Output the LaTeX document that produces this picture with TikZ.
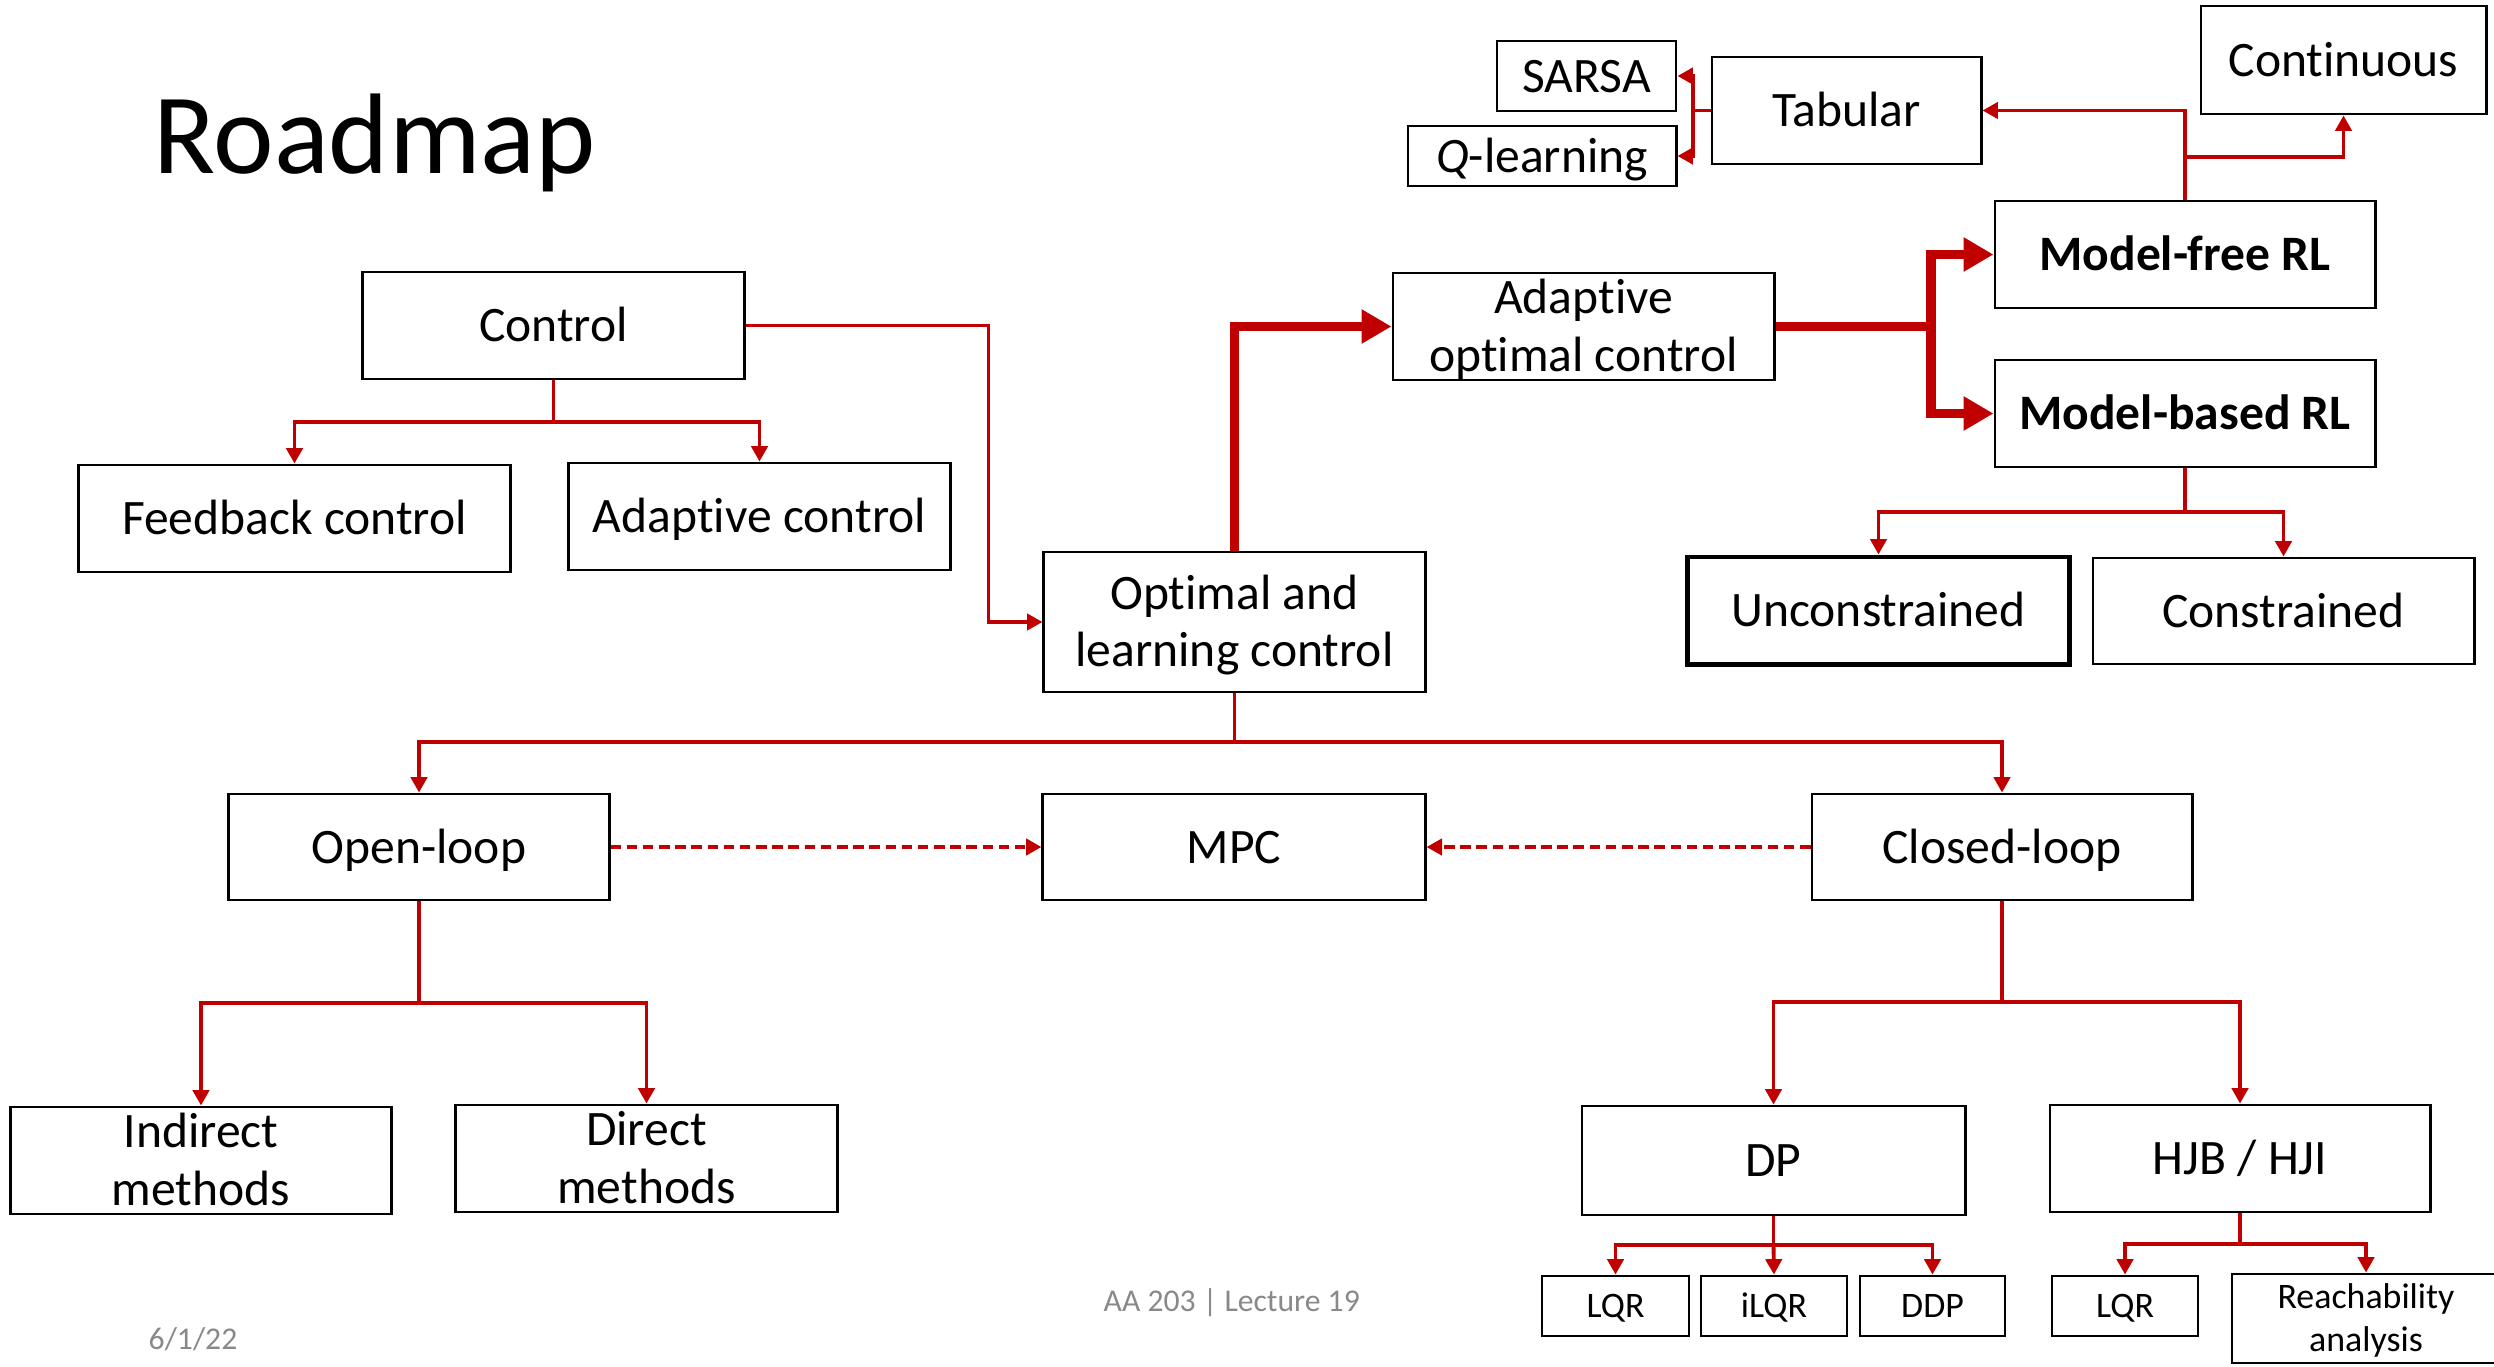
\documentclass[tikz,border=0pt]{standalone}
\usepackage{fontspec}
\setmainfont{Carlito}[Ligatures=NoCommon]
\usetikzlibrary{arrows.meta}
\definecolor{linkred}{HTML}{C00000}
\definecolor{footgray}{HTML}{898989}
\newcommand{\lblfont}{\fontsize{14.1}{16.3}\selectfont}
\newcommand{\smlfont}{\fontsize{10.2}{12.2}\selectfont}
\begin{document}
\begin{tikzpicture}[x=0.01cm, y=-0.01cm,
  box/.style={draw=black, line width=0.8pt, inner sep=0pt, align=center, font=\lblfont,
    text height=9.1pt, text depth=0pt},
  twoline/.style={text height=25.4pt, text depth=0pt},
  sbox/.style={box, font=\smlfont, text height=6.6pt, text depth=0pt},
  stwoline/.style={text height=18.8pt, text depth=0pt},
  link/.style={draw=linkred, line width=1.1pt, -{Triangle[length=4.4pt,width=4.6pt]}},
  trunk/.style={draw=linkred, line width=1.1pt},
  heavy/.style={draw=linkred, line width=2.7pt, line join=miter, -{Triangle[length=8.5pt,width=9.2pt]}},
  dashlink/.style={draw=linkred, line width=1.3pt, dash pattern=on 3pt off 1.6pt, -{Triangle[length=4.4pt,width=4.6pt]}}]

\fill[white] (0,0) rectangle (2494,1366);
\useasboundingbox (0,0) rectangle (2494,1366);
\clip (0,0) rectangle (2494,1366);

% title and footer
\node[anchor=base west, inner sep=0pt, font=\fontsize{32.6}{37}\selectfont] (title) at (153,173) {Roadmap};
\node[anchor=base west, inner sep=0pt, text=footgray, font=\fontsize{9}{10}\selectfont] (lect) at (1103,1311) {AA 203 | Lecture 19};
\node[anchor=base west, inner sep=0pt, text=footgray, font=\fontsize{9}{10}\selectfont] (date) at (148,1349) {6/1/22};

% upper left
\node[box, minimum width=3.81cm, minimum height=1.07cm] (ctrl) at (553.5,325.5) {Control};
\node[box, minimum width=4.31cm, minimum height=1.07cm] (fb) at (294.5,518.5) {Feedback control};
\node[box, minimum width=3.81cm, minimum height=1.07cm] (adc) at (759.5,516.5) {Adaptive control};
\node[box, twoline, minimum width=3.81cm, minimum height=1.40cm] (olc) at (1234.5,622) {Optimal and\\learning control};

% upper right
\node[box, twoline, minimum width=3.81cm, minimum height=1.07cm] (aoc) at (1583.5,326.5) {Adaptive\\optimal control};
\node[box, minimum width=3.80cm, minimum height=1.07cm, font=\lblfont\bfseries] (mfree) at (2185,254.5) {Model-free RL};
\node[box, minimum width=3.80cm, minimum height=1.07cm, font=\lblfont\bfseries] (mbased) at (2185,413.5) {Model-based RL};
\node[box, minimum width=2.69cm, minimum height=1.07cm] (tab) at (1846.5,110.5) {Tabular};
\node[box, minimum width=1.79cm, minimum height=0.70cm] (sarsa) at (1586.5,76) {SARSA};
\node[box, minimum width=2.68cm, minimum height=0.60cm] (qlearn) at (1542,156) {\textit{Q}-learning};
\node[box, minimum width=2.85cm, minimum height=1.08cm] (cont) at (2343.5,60) {Continuous};
\node[box, line width=1.4pt, minimum width=3.81cm, minimum height=1.07cm] (uncon) at (1878.5,610.5) {Unconstrained};
\node[box, minimum width=3.81cm, minimum height=1.06cm] (con) at (2283.5,611) {Constrained};

% middle row
\node[box, minimum width=3.80cm, minimum height=1.06cm] (open) at (419,847) {Open-loop};
\node[box, minimum width=3.82cm, minimum height=1.06cm] (mpc) at (1234,847) {MPC};
\node[box, minimum width=3.80cm, minimum height=1.06cm] (closed) at (2002,847) {Closed-loop};

% lower row
\node[box, twoline, minimum width=3.80cm, minimum height=1.07cm] (indirect) at (201,1160.5) {Indirect\\methods};
\node[box, twoline, minimum width=3.81cm, minimum height=1.07cm] (direct) at (646.5,1158.5) {Direct\\methods};
\node[box, minimum width=3.83cm, minimum height=1.09cm] (dp) at (1773.5,1160.5) {DP};
\node[box, minimum width=3.80cm, minimum height=1.07cm] (hjb) at (2240,1158.5) {HJB / HJI};
\node[sbox, minimum width=1.47cm, minimum height=0.60cm] (lqra) at (1615.5,1306) {LQR};
\node[sbox, minimum width=1.46cm, minimum height=0.60cm] (ilqr) at (1774,1306) {iLQR};
\node[sbox, minimum width=1.45cm, minimum height=0.60cm] (ddp) at (1932.5,1306) {DDP};
\node[sbox, minimum width=1.46cm, minimum height=0.60cm] (lqrb) at (2125,1306) {LQR};
\node[sbox, stwoline, minimum width=2.68cm, minimum height=0.89cm] (reach) at (2366,1318.5) {Reachability\\analysis};

% branch points
\coordinate (jctrl) at (553.5,422);
\coordinate (jaoc) at (1931,326.5);
\coordinate (jtab) at (1693,110.5);
\coordinate (jcont) at (2185,157);
\coordinate (jmb) at (2185,512);
\coordinate (jolc) at (1234.5,742);
\coordinate (jopen) at (419,1003);
\coordinate (jclosed) at (2002,1002);
\coordinate (jdp) at (1773.5,1245);
\coordinate (jhjb) at (2240,1244);

% Control
\draw[trunk] (ctrl.south) -- (jctrl);
\draw[link] (jctrl) -| (fb.north);
\draw[link] (jctrl) -| (adc.north);
\draw[link] (ctrl.east) -- ++(243,0) |- (olc.west);

% adaptive optimal control branch
\draw[heavy] (olc.north) |- (aoc.west);
\draw[draw=linkred, line width=2.7pt] (aoc.east) -- (jaoc);
\draw[heavy] (jaoc) |- (mfree.west);
\draw[heavy] (jaoc) |- (mbased.west);

% model-free RL
\draw[link] (mfree.north) |- (tab.east);
\draw[link] (jcont) -| (cont.south);
\draw[trunk] (tab.west) -- (jtab);
\draw[link] (jtab) |- (sarsa.east);
\draw[link] (jtab) |- (qlearn.east);

% model-based RL
\draw[trunk] (mbased.south) -- (jmb);
\draw[link] (jmb) -| (uncon.north);
\draw[link] (jmb) -| (con.north);

% optimal and learning control
\draw[trunk] (olc.south) -- (jolc);
\draw[link] (jolc) -| (open.north);
\draw[link] (jolc) -| (closed.north);
\draw[dashlink] (open.east) -- (mpc.west);
\draw[dashlink] (closed.west) -- (mpc.east);

% open-loop
\draw[trunk] (open.south) -- (jopen);
\draw[link] (jopen) -| (indirect.north);
\draw[link] (jopen) -| (direct.north);

% closed-loop
\draw[trunk] (closed.south) -- (jclosed);
\draw[link] (jclosed) -| (dp.north);
\draw[link] (jclosed) -| (hjb.north);

% DP
\draw[trunk] (dp.south) -- (jdp);
\draw[link] (jdp) -| (lqra.north);
\draw[link] (jdp) -- (ilqr.north);
\draw[link] (jdp) -| (ddp.north);

% HJB / HJI
\draw[trunk] (hjb.south) -- (jhjb);
\draw[link] (jhjb) -| (lqrb.north);
\draw[link] (jhjb) -| (reach.north);
\end{tikzpicture}
\end{document}
